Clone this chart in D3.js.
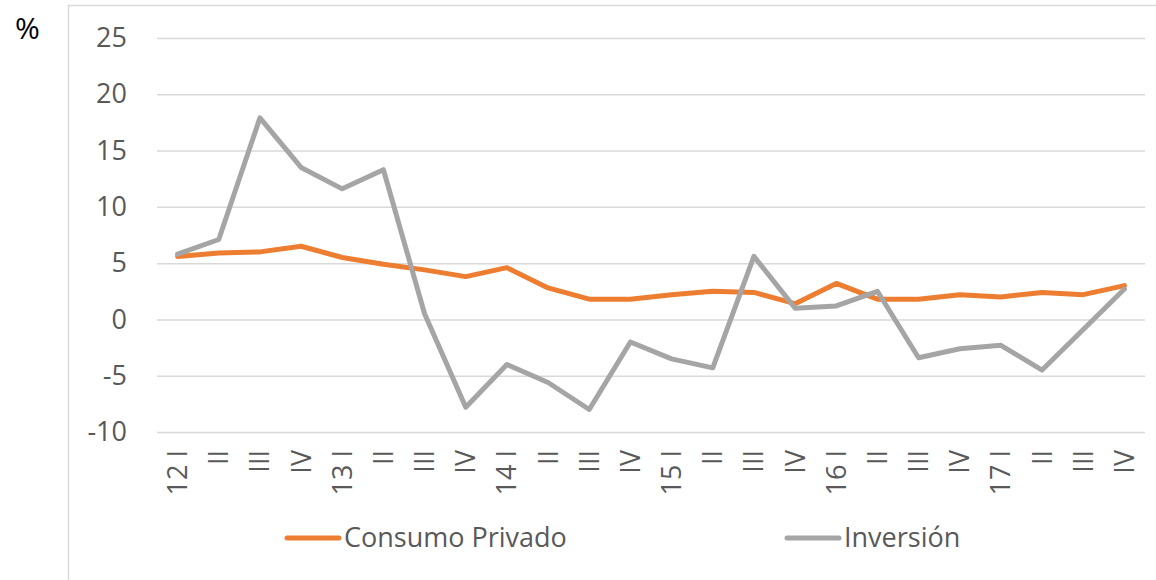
<!DOCTYPE html>
<html>
<head>
<meta charset="utf-8">
<script src="https://cdn.jsdelivr.net/npm/d3@7"></script>
<style>
  html, body { margin: 0; padding: 0; background: #fff; }
  svg { display: block; font-family: 'Open Sans', sans-serif; }
</style>
</head>
<body>
<svg id="chart" width="1156" height="580"></svg>
<script>
// Consumo privado vs inversión, variación %

const quarters = ['12 I', 'II', 'III', 'IV', '13 I', 'II', 'III', 'IV', '14 I', 'II', 'III', 'IV',
  '15 I', 'II', 'III', 'IV', '16 I', 'II', 'III', 'IV', '17 I', 'II', 'III', 'IV']
const consumo = [5.6, 5.9, 6.0, 6.5, 5.5, 4.9, 4.4, 3.8, 4.6, 2.8, 1.8, 1.8,
  2.2, 2.5, 2.4, 1.4, 3.2, 1.8, 1.8, 2.2, 2.0, 2.4, 2.2, 3.0]
const inversion = [5.8, 7.1, 17.9, 13.5, 11.6, 13.3, 0.5, -7.8, -4.0, -5.6, -8.0, -2.0,
  -3.5, -4.3, 5.6, 1.0, 1.2, 2.5, -3.4, -2.6, -2.3, -4.5, -0.9, 2.7]
const yTicks = [-10, -5, 0, 5, 10, 15, 20, 25]
const seriesNames = ['Consumo Privado', 'Inversión']

const ORANGE = '#ED7D31'
const GRAY = '#A5A5A5'
const GRID = '#D9D9D9'
const TEXT = '#595959'
const FONT_SIZE = 27
const LINE_W = 5

const svg = d3.select('#chart')

// outer chart frame, runs off the right and bottom edges
svg.append('rect')
  .attr('x', 68.5).attr('y', 5.5)
  .attr('width', 1200).attr('height', 700)
  .attr('fill', 'none').attr('stroke', GRID).attr('stroke-width', 1.5)

const plot = { left: 157, right: 1145, top: 38, bottom: 432 }

const x = d3.scaleBand().domain(d3.range(quarters.length)).range([plot.left, plot.right])
const y = d3.scaleLinear().domain([-10, 25]).range([plot.bottom, plot.top])
const cx = (i) => x(i) + x.bandwidth() / 2

// gridlines + y labels (plain hyphen for negatives, like the original)
const yAxis = d3.axisLeft(y)
  .tickValues(yTicks)
  .tickFormat((d) => String(d))
  .tickSize(-(plot.right - plot.left))
  .tickPadding(30)
const gy = svg.append('g').attr('transform', `translate(${plot.left},0)`).call(yAxis)
gy.select('.domain').remove()
gy.selectAll('.tick line').attr('stroke', GRID).attr('stroke-width', 1.5)
gy.selectAll('.tick text')
  .attr('fill', TEXT)
  .attr('font-size', FONT_SIZE)
  .attr('font-family', "'Open Sans', sans-serif")

// x labels, rotated
svg.append('g').selectAll('text')
  .data(quarters)
  .join('text')
  .attr('transform', (d, i) => `translate(${cx(i)},450) rotate(-90)`)
  .attr('text-anchor', 'end')
  .attr('dy', '0.35em')
  .attr('fill', TEXT)
  .attr('font-size', FONT_SIZE)
  .text((d) => d)

svg.append('text')
  .attr('x', 15).attr('y', 39)
  .attr('font-size', 30)
  .attr('fill', '#000')
  .text('%')

const line = d3.line().x((d, i) => cx(i)).y((d) => y(d))

svg.append('path')
  .datum(consumo)
  .attr('d', line)
  .attr('fill', 'none')
  .attr('stroke', ORANGE)
  .attr('stroke-width', LINE_W)
  .attr('stroke-linejoin', 'round')
  .attr('stroke-linecap', 'round')

svg.append('path')
  .datum(inversion)
  .attr('d', line)
  .attr('fill', 'none')
  .attr('stroke', GRAY)
  .attr('stroke-width', LINE_W)
  .attr('stroke-linejoin', 'round')
  .attr('stroke-linecap', 'round')

// legend
const legendItems = [
  { name: seriesNames[0], color: ORANGE, x: 287 },
  { name: seriesNames[1], color: GRAY, x: 787 }
]
const lg = svg.append('g').selectAll('g')
  .data(legendItems)
  .join('g')
  .attr('transform', (d) => `translate(${d.x},538)`)

lg.append('line')
  .attr('x1', 0).attr('x2', 52)
  .attr('stroke', (d) => d.color)
  .attr('stroke-width', LINE_W)
  .attr('stroke-linecap', 'round')

lg.append('text')
  .attr('x', 57)
  .attr('dy', '0.35em')
  .attr('fill', TEXT)
  .attr('font-size', FONT_SIZE)
  .text((d) => d.name)
</script>
</body>
</html>
